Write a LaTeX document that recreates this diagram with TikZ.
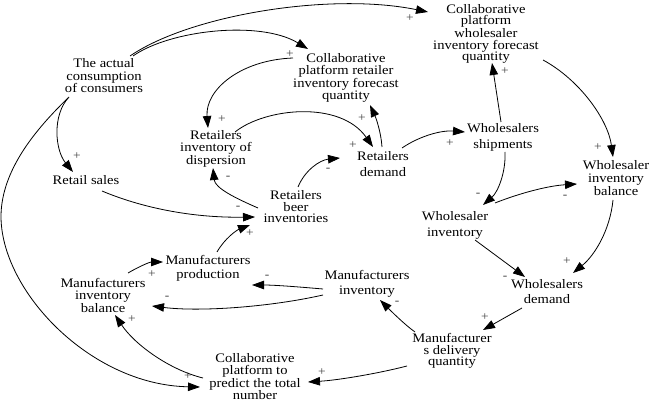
\documentclass[tikz,border=0pt]{standalone}
\usepackage{fontspec}
\setmainfont{Liberation Serif}[FakeStretch=1.12]
\usetikzlibrary{arrows.meta}
\begin{document}
\begin{tikzpicture}[x=1pt,y=-1pt,
  lbl/.style={align=center,inner sep=0pt,font=\fontsize{13}{#1}\selectfont},
  lbl/.default=12.5,
  arr/.style={line width=0.8pt,-{Triangle[length=12pt,width=8.5pt]}},
  pol/.style={inner sep=0pt,font=\fontsize{12}{12}\selectfont,text=black!75}]
\useasboundingbox (0,0) rectangle (653,403);
% nodes
\node[lbl=12.5] (A)  at (104,76)  {The actual\\consumption\\of consumers};
\node[lbl] (R)  at (86,180)  {Retail sales};
\node[lbl=12.3] (CR) at (346,78)  {Collaborative\\platform retailer\\inventory forecast\\quantity};
\node[lbl=11.5] (CW) at (486,34)  {Collaborative\\platform\\wholesaler\\inventory forecast\\quantity};
\node[lbl=11.5] (RI) at (216,149) {Retailers\\inventory of\\dispersion};
\node[lbl=16] (RD) at (383,164) {Retailers\\demand};
\node[lbl=16] (WS) at (503,137) {Wholesalers\\shipments};
\node[lbl=13] (WB) at (616,178) {Wholesaler\\inventory\\balance};
\node[lbl=11.5] (RB) at (296,207) {Retailers\\beer\\inventories};
\node[lbl=16] (WI) at (455,225) {Wholesaler\\inventory};
\node[lbl=15] (WD) at (547,292) {Wholesalers\\demand};
\node[lbl=11.5] (MD) at (452,351) {Manufacturer\\s delivery\\quantity};
\node[lbl=15] (MI) at (367,284) {Manufacturers\\inventory};
\node[lbl=11.5] (CP) at (255,377) {Collaborative\\platform to\\predict the total\\number};
\node[lbl=12.5] (MB) at (103,295) {Manufacturers\\inventory\\balance};
\node[lbl=14] (MP) at (208,268) {Manufacturers\\production};
% connectors
\draw[arr] ([shift={(26,-20)}]A.center) .. controls (190,15) and (330,-8) .. ([shift={(-58,-22)}]CW.center);
\draw[arr] ([shift={(29,-20)}]A.center) .. controls (170,30) and (260,20) .. ([shift={(-38,-29)}]CR.center);
\draw[arr] ([shift={(-53,-20)}]CR.center) .. controls (240,60) and (205,90) .. ([shift={(-8,-21)}]RI.center);
\draw[arr] ([shift={(-35,21)}]A.center) .. controls (52,115) and (55,150) .. ([shift={(-13,-8)}]R.center);
\draw[arr] ([shift={(-36,22)}]A.center) .. controls (35,130) and (2,170) .. (1,215) .. controls (0,290) and (90,385) .. ([shift={(-55,10)}]CP.center);
\draw[arr] ([shift={(16,11)}]R.center) .. controls (140,207) and (190,218) .. ([shift={(-41,10)}]RB.center);
\draw[arr] ([shift={(9,-16)}]MP.center) .. controls (225,238) and (237,230) .. ([shift={(-46,18)}]RB.center);
\draw[arr] ([shift={(-38,1)}]RB.center) .. controls (235,198) and (215,188) .. ([shift={(-3,19)}]RI.center);
\draw[arr] ([shift={(2,-20)}]RB.center) .. controls (305,170) and (320,160) .. ([shift={(-43,-6)}]RD.center);
\draw[arr] ([shift={(19,-17)}]RI.center) .. controls (265,108) and (340,100) .. ([shift={(-10,-17)}]RD.center);
\draw[arr] ([shift={(-1,-17)}]RD.center) .. controls (381,132) and (376,118) .. ([shift={(24,27)}]CR.center);
\draw[arr] ([shift={(19,-16)}]RD.center) .. controls (418,137) and (440,130) .. ([shift={(-38,-5)}]WS.center);
\draw[arr] ([shift={(-2,-15)}]WS.center) -- ([shift={(6,29)}]CW.center);
\draw[arr] ([shift={(57,26)}]CW.center) .. controls (580,80) and (608,120) .. ([shift={(-3,-21)}]WB.center);
\draw[arr] ([shift={(2,15)}]WS.center) .. controls (506,172) and (498,192) .. ([shift={(28,-20)}]WI.center);
\draw[arr] ([shift={(40,-22)}]WI.center) .. controls (515,195) and (545,186) .. ([shift={(-39,6)}]WB.center);
\draw[arr] ([shift={(20,15)}]WI.center) -- ([shift={(-22,-15)}]WD.center);
\draw[arr] ([shift={(-3,22)}]WB.center) .. controls (610,230) and (595,255) .. ([shift={(26,-19)}]WD.center);
\draw[arr] ([shift={(-25,16)}]WD.center) -- ([shift={(31,-21)}]MD.center);
\draw[arr] ([shift={(-37,-19)}]MD.center) .. controls (405,325) and (390,310) .. ([shift={(13,16)}]MI.center);
\draw[arr] ([shift={(-45,15)}]MD.center) .. controls (380,373) and (340,380) .. ([shift={(53,5)}]CP.center);
\draw[arr] ([shift={(-52,1)}]CP.center) .. controls (170,370) and (135,345) .. ([shift={(12,20)}]MB.center);
\draw[arr] ([shift={(25,-22)}]MB.center) .. controls (140,266) and (150,262) .. ([shift={(-45,-6)}]MP.center);
\draw[arr] ([shift={(-44,5)}]MI.center) .. controls (300,287) and (275,285) .. ([shift={(44,17)}]MP.center);
\draw[arr] ([shift={(-44,11)}]MI.center) .. controls (270,307) and (200,312) .. ([shift={(49,11)}]MB.center);
% polarities
\node[pol] (p1) at (410,18) {+};
\node[pol] (p2) at (290,54) {+};
\node[pol] (p3) at (222,119) {+};
\node[pol] (p4) at (77,156) {+};
\node[pol] (p5) at (188,376) {+};
\node[pol] (p6) at (238,208) {-};
\node[pol] (p7) at (250,233) {+};
\node[pol] (p8) at (228,178) {-};
\node[pol] (p9) at (328,170) {-};
\node[pol] (p10) at (353,145) {+};
\node[pol] (p11) at (362,118) {+};
\node[pol] (p12) at (450,143) {+};
\node[pol] (p13) at (505,71) {+};
\node[pol] (p14) at (598,147) {+};
\node[pol] (p15) at (478,195) {-};
\node[pol] (p16) at (565,197) {-};
\node[pol] (p17) at (505,278) {-};
\node[pol] (p18) at (567,261) {+};
\node[pol] (p19) at (485,317) {+};
\node[pol] (p20) at (397,303) {-};
\node[pol] (p21) at (322,372) {+};
\node[pol] (p22) at (132,319) {+};
\node[pol] (p23) at (152,274) {+};
\node[pol] (p24) at (267,277) {-};
\node[pol] (p25) at (167,298) {-};
\end{tikzpicture}
\end{document}
